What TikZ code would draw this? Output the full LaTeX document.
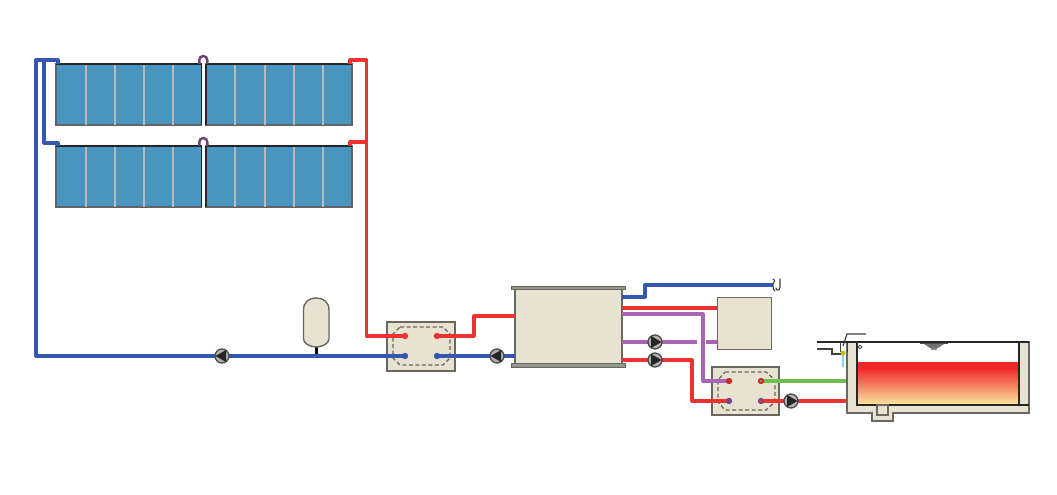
\documentclass[tikz,border=0pt]{standalone}
\begin{document}
\begin{tikzpicture}[x=1pt,y=-1pt,
  pipeblue/.style={draw=pblue,line width=3.2pt,line join=round},
  pipered/.style={draw=pred,line width=3.2pt,line join=round},
  pipepurple/.style={draw=ppurple,line width=3.2pt,line join=round},
  pipegreen/.style={draw=pgreen,line width=3.2pt,line join=round},
  panel/.style={draw=panelline,fill=panelfill,line width=1.4pt},
  divider/.style={draw=panelline!45!white,line width=1.4pt},
  header/.style={draw=black!85,line width=1.4pt},
  beige/.style={draw=boxline,fill=boxfill,line width=1.4pt},
  dashbox/.style={draw=boxline,line width=1.3pt,dash pattern=on 4pt off 2.5pt},
  portdot/.style={circle,inner sep=0pt,minimum size=6pt},
  pumpbody/.style={circle,draw=black!70,fill=white!70!black,line width=1.3pt,minimum size=14pt,inner sep=0pt},
]
\definecolor{pblue}{RGB}{52,88,176}
\definecolor{pred}{RGB}{238,50,50}
\definecolor{ppurple}{RGB}{170,100,180}
\definecolor{pgreen}{RGB}{110,190,80}
\definecolor{panelfill}{RGB}{72,150,192}
\definecolor{panelline}{RGB}{95,100,105}
\definecolor{boxfill}{RGB}{232,226,208}
\definecolor{boxline}{RGB}{105,103,95}
\definecolor{waterred}{RGB}{238,40,40}
\definecolor{wateryel}{RGB}{252,232,160}
\useasboundingbox (0,0) rectangle (1057,495);
\newcommand{\pumpR}[3]{%
  \node[pumpbody] (#1) at (#2,#3) {};
  \fill[black!85] (#2-4,#3-6) -- (#2+6.5,#3) -- (#2-4,#3+6) -- cycle;}
\newcommand{\pumpL}[3]{%
  \node[pumpbody] (#1) at (#2,#3) {};
  \fill[black!85] (#2+4,#3-6) -- (#2-6.5,#3) -- (#2+4,#3+6) -- cycle;}
\newcommand{\panelrow}[1]{%
  \begin{scope}[yshift=#1]
  \path[panel] (56,64) rectangle (201.5,125);
  \path[panel] (206,64) rectangle (352,125);
  \foreach \px in {86,115,144,173,235,265,294,323}
    \draw[divider] (\px,64) -- (\px,125);
  \draw[header] (56,64) -- (201.5,64);
  \draw[header] (206,64) -- (352,64);
  \draw[header] (201.5,64) -- (201.5,125);
  \draw[header] (206,64) -- (206,125);
  \draw[draw=ppurple!65!black,line width=2.4pt] (199.3,64) -- (199.3,60) arc[start angle=180,end angle=360,radius=4] -- (207.3,64);
  \end{scope}}
% ---- solar panels
\panelrow{0pt}
\panelrow{-82pt}
% ---- named coordinates
\coordinate (bTop) at (58,64);
\coordinate (bTop2) at (58,146);
\coordinate (rTop) at (350,64);
\coordinate (rTop2) at (350,146);
% ---- components first for pipes to end on
\node[portdot] (h1a) at (405,336) {};
\node[portdot] (h1b) at (437,336) {};
\node[portdot] (h1c) at (405,356) {};
\node[portdot] (h1d) at (437,356) {};
\node[portdot] (h2a) at (729,381) {};
\node[portdot] (h2b) at (761,381) {};
\node[portdot] (h2c) at (729,401) {};
\node[portdot] (h2d) at (761,401) {};
% vessels and boxes
\path[beige] (387,322) rectangle (455,371);
\path[dashbox] (400,327) -- (443,327) -- (450,334) -- (450,358) -- (443,365) -- (400,365) -- (393,358) -- (393,334) -- cycle;
\path[beige] (712,367) rectangle (779,415);
\path[dashbox] (725,372) -- (766,372) -- (775,380) -- (775,402) -- (766,410) -- (725,410) -- (718,402) -- (718,380) -- cycle;
\path[beige] (515,288) rectangle (622,364);
\path[draw=boxline,fill=boxline!70!white,line width=.6pt] (511,286) rectangle (625.5,289.5);
\path[draw=boxline,fill=boxline!70!white,line width=.6pt] (511,363.5) rectangle (625.5,367);
\node[beige,minimum width=54pt,minimum height=52pt,inner sep=0pt,anchor=north west] (store) at (717,297) {};
\draw[black,line width=2.4pt] (316.5,345) -- (316.5,356);
\path[beige] (303.5,310) .. controls (303.5,302) and (309,298) .. (316.3,298) .. controls (323.5,298) and (329,302) .. (329,310) -- (329,339) .. controls (329,343) and (323,347) .. (316.3,347) .. controls (309.5,347) and (303.5,343) .. (303.5,339) -- cycle;
% ---- pipes
\draw[pipeblue] (h1c.center) -- (36,356) -- (36,60) -- (58,60) -- (bTop);
\draw[pipeblue] (44,60) -- (44,143) -- (58,143) -- (bTop2);
\draw[pipered] (h1a.center) -- (366.5,336) -- (366.5,60) -- (350,60) -- (rTop);
\draw[pipered] (366.5,142) -- (350,142) -- (rTop2);
\draw[pipered] (h1b.center) -- (474,336) -- (474,316) -- (515,316);
\draw[pipeblue] (h1d.center) -- (515,356);
\draw[pipeblue] (622,297) -- (645,297) -- (645,285) -- (773,285);
\draw[pipered] (622,308) -- (store.west |- 0,308);
\draw[pipepurple] (622,314) -- (703,314) -- (703,381) -- (h2a.center);
\draw[pipepurple] (622,342) -- (697,342);
\draw[pipepurple] (706,342) -- (717,342);
\draw[pipered] (622,360) -- (692,360) -- (692,401) -- (h2c.center);
\draw[pipegreen] (h2b.center) -- (857,381);
\draw[pipered] (h2d.center) -- (857,401);
% ---- port dots
\fill[pred] (h1a) circle (3.2pt) (h1b) circle (3.2pt);
\fill[pblue] (h1c) circle (3.2pt) (h1d) circle (3.2pt);
\foreach \n in {h2a,h2b}{\fill[pred!85!black] (\n) circle (3.2pt);}
\foreach \n in {h2c,h2d}{\fill[pblue!70!pred] (\n) circle (3.2pt);}
\fill[pred] (h2d) circle (1.6pt);
\fill[pgreen] (h2b) circle (1.2pt);
% ---- pumps
\pumpL{p1}{222}{356}
\pumpL{p2}{497}{356}
\pumpR{p3}{655}{342}
\pumpR{p4}{655}{360}
\pumpR{p5}{791}{401}
% ---- faucet
\draw[black!75,line width=1.1pt,line cap=round] (773,279) .. controls (777,281) and (772,283) .. (773,285) .. controls (774,287) and (772,289) .. (775,291);
\draw[black!75,line width=1.1pt,line cap=round] (780,279) -- (780,287) .. controls (780,291) and (776,291) .. (776,288);
% ---- pool
\fill[waterred] (857,362) rectangle (1019,368);
\shade[top color=waterred,bottom color=wateryel] (857,368) rectangle (1019,405);
\path[draw=boxline,fill=boxfill,line width=1.2pt] (847,342) -- (857,342) -- (857,405) -- (1019,405) -- (1019,342) -- (1029,342) -- (1029,413) -- (893,413) -- (893,421) -- (872,421) -- (872,413) -- (847,413) -- cycle;
\draw[black!85,line width=1.5pt] (857,342) -- (857,405) -- (1029,405);
\draw[black!85,line width=1.4pt] (817,342) -- (1029,342);
\draw[black!85,line width=1.5pt] (1019,342) -- (1019,405);
\path[draw=boxline,fill=boxfill,line width=1.2pt] (877,405) rectangle (888,415);
% skimmer and fill pipes
\draw[black!75,line width=1.2pt] (817,349) -- (832,349) -- (832,354) -- (845,354);
\draw[black!75,line width=1.2pt] (866,334) -- (847,334) -- (843,346);
\draw[black!75,line width=1pt] (840,342) -- (840,352) (847,342) -- (847,352);
\draw[cyan!50!white,line width=1.6pt] (843,354) -- (843,367);
\fill[olive!50!yellow] (843,353) circle (2.5pt);
\draw[black!60,line width=1pt] (860,347) circle (1.9pt);
% water level mark
\fill[black!70] (920,342.5) rectangle (948,344);
\fill[black!55] (924,344) -- (944,344) -- (938,348) -- (930,348) -- cycle;
\fill[black!45] (931,348) rectangle (937,350);
\end{tikzpicture}
\end{document}
